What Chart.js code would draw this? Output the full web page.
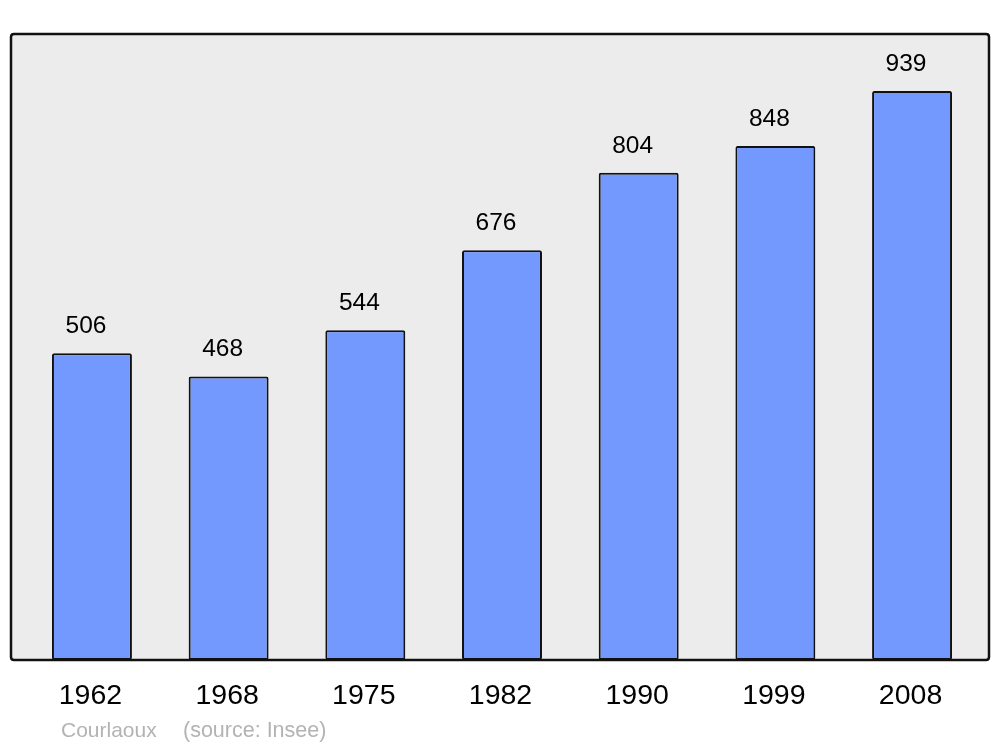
<!DOCTYPE html>
<html>
<head>
<meta charset="utf-8">
<script src="https://cdn.jsdelivr.net/npm/chart.js@4/dist/chart.umd.min.js"></script>
<style>
  html, body { margin: 0; padding: 0; background: #fff; }
  #wrap { width: 1000px; height: 747px; }
</style>
</head>
<body>
<div id="wrap"><canvas id="chart" width="1000" height="747"></canvas></div>
<script>
const years = ["1962", "1968", "1975", "1982", "1990", "1999", "2008"];
const population = [506, 468, 544, 676, 804, 848, 939];
const yMax = 1033;
const footerName = "Courlaoux";
const footerSource = "(source: Insee)";

const FONT = '"Liberation Sans", Arial, sans-serif';

function roundRect(ctx, x, y, w, h, r) {
  ctx.beginPath();
  ctx.moveTo(x + r, y);
  ctx.lineTo(x + w - r, y);
  ctx.quadraticCurveTo(x + w, y, x + w, y + r);
  ctx.lineTo(x + w, y + h - r);
  ctx.quadraticCurveTo(x + w, y + h, x + w - r, y + h);
  ctx.lineTo(x + r, y + h);
  ctx.quadraticCurveTo(x, y + h, x, y + h - r);
  ctx.lineTo(x, y + r);
  ctx.quadraticCurveTo(x, y, x + r, y);
  ctx.closePath();
}

const frame = {
  id: "frame",
  beforeDatasetsDraw(chart) {
    const ctx = chart.ctx;
    ctx.save();
    roundRect(ctx, 11, 34, 978, 626, 3);
    ctx.fillStyle = "#ececec";
    ctx.fill();
    ctx.restore();
  },
  afterDatasetsDraw(chart) {
    const ctx = chart.ctx;
    const meta = chart.getDatasetMeta(0);
    ctx.save();
    roundRect(ctx, 11, 34, 978, 626, 3);
    ctx.lineWidth = 2.5;
    ctx.strokeStyle = "#111";
    ctx.stroke();

    ctx.textAlign = "center";
    ctx.textBaseline = "middle";
    ctx.fillStyle = "#000";
    meta.data.forEach((bar, i) => {
      ctx.font = "24.5px " + FONT;
      ctx.fillText(String(population[i]), bar.x - 6, bar.y - 27);
      ctx.font = "28.5px " + FONT;
      ctx.fillText(years[i], bar.x - 1.5, 696);
    });

    ctx.textAlign = "left";
    ctx.font = "21px " + FONT;
    ctx.fillStyle = "#b3b3b3";
    ctx.fillText(footerName, 61, 731);
    ctx.font = "21.5px " + FONT;
    ctx.fillText(footerSource, 183, 731);
    ctx.restore();
  }
};

new Chart(document.getElementById("chart"), {
  type: "bar",
  data: {
    labels: years,
    datasets: [
      {
        data: population,
        backgroundColor: "#7399ff",
        borderColor: "#111",
        borderWidth: 2,
        borderRadius: 2,
        borderSkipped: false,
        categoryPercentage: 1,
        barPercentage: 0.585,
      },
    ],
  },
  options: {
    responsive: false,
    animation: false,
    layout: { padding: { left: 23.6, right: 19.6, top: 34, bottom: 87 } },
    plugins: { legend: { display: false }, tooltip: { enabled: false } },
    scales: {
      x: { display: false },
      y: { display: false, min: 0, max: yMax },
    },
  },
  plugins: [frame],
});
</script>
</body>
</html>
